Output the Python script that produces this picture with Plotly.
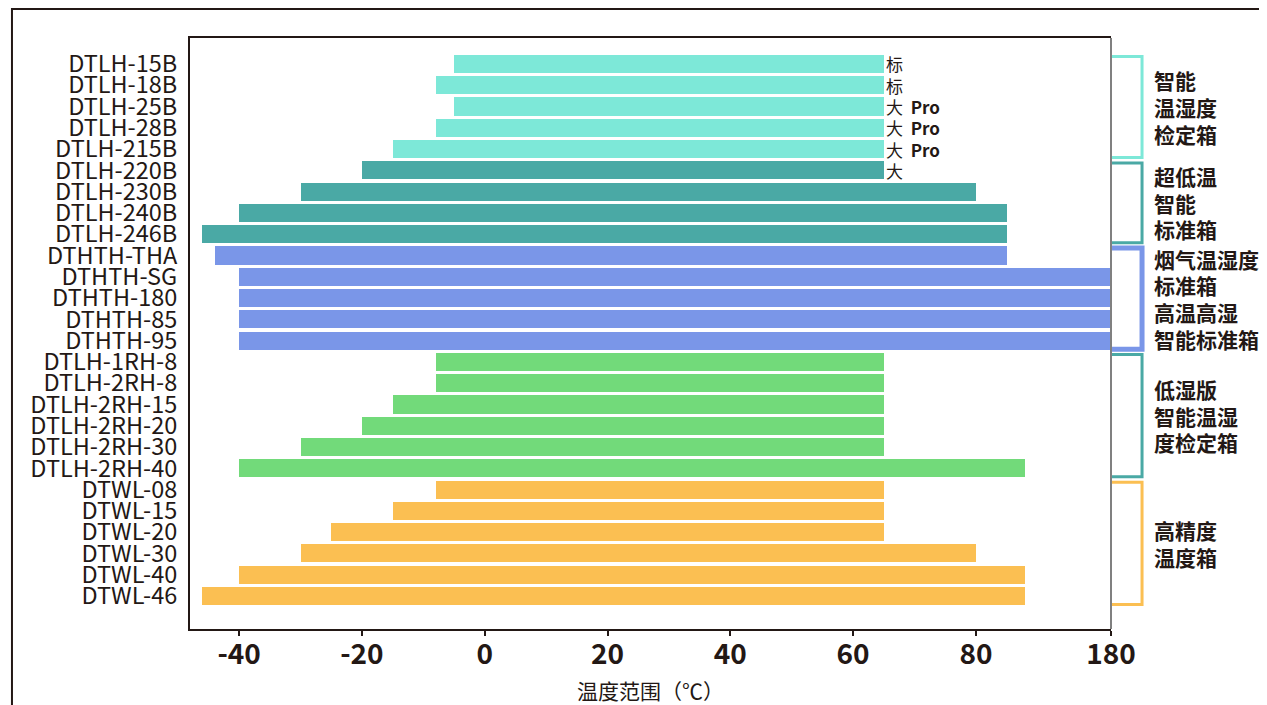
import plotly.graph_objects as go

# ---------------- data ----------------
models = ["DTLH-15B", "DTLH-18B", "DTLH-25B", "DTLH-28B", "DTLH-215B",
          "DTLH-220B", "DTLH-230B", "DTLH-240B", "DTLH-246B",
          "DTHTH-THA", "DTHTH-SG", "DTHTH-180", "DTHTH-85", "DTHTH-95",
          "DTLH-1RH-8", "DTLH-2RH-8", "DTLH-2RH-15", "DTLH-2RH-20", "DTLH-2RH-30", "DTLH-2RH-40",
          "DTWL-08", "DTWL-15", "DTWL-20", "DTWL-30", "DTWL-40", "DTWL-46"]
t_min = [-5, -8, -5, -8, -15,
         -20, -30, -40, -46,
         -44, -40, -40, -40, -40,
         -8, -8, -15, -20, -30, -40,
         -8, -15, -25, -30, -40, -46]
t_max = [65, 65, 65, 65, 65,
         65, 80, 85, 85,
         85, 180, 180, 180, 180,
         65, 65, 65, 65, 65, 88,
         65, 65, 65, 80, 88, 88]

group_sizes = [5, 4, 5, 6, 6]
group_bar_colors = ["#7DE8D8", "#4AA9A5", "#7A96E8", "#72DA7A", "#FBBF52"]
group_bracket_colors = ["#7DE8D8", "#4AA9A5", "#7A96E8", "#4AA9A5", "#FBBF52"]
group_labels = [["智能", "温湿度", "检定箱"],
                ["超低温", "智能", "标准箱"],
                ["烟气温湿度", "标准箱", "高温高湿", "智能标准箱"],
                ["低湿版", "智能温湿", "度检定箱"],
                ["高精度", "温度箱"]]

bar_notes = {"DTLH-15B": "标", "DTLH-18B": "标",
             "DTLH-25B": "大  <b>Pro</b>", "DTLH-28B": "大  <b>Pro</b>",
             "DTLH-215B": "大  <b>Pro</b>", "DTLH-220B": "大"}

tick_vals = [-40, -20, 0, 20, 40, 60, 80, 102]
tick_text = ["-40", "-20", "0", "20", "40", "60", "80", "180"]
x_range = [-48, 102]
x_title = "温度范围（℃）"

# ---------------- figure ----------------
TXT = "#231815"
FONT = "Noto Sans CJK SC"

row_colors = []
for size, col in zip(group_sizes, group_bar_colors):
    row_colors += [col] * size

ys = list(range(len(models)))
fig = go.Figure()
fig.add_trace(go.Bar(
    y=ys, x=[hi - lo for lo, hi in zip(t_min, t_max)], base=t_min,
    orientation="h", width=0.85,
    marker=dict(color=row_colors, line=dict(width=0)),
    hoverinfo="skip", showlegend=False))

annotations = []
for i, m in enumerate(models):
    if m in bar_notes:
        annotations.append(dict(x=t_max[i], y=i, xref="x", yref="y", text=bar_notes[m],
                                showarrow=False, xanchor="left", yanchor="middle", xshift=0,
                                font=dict(family=FONT, size=17, color=TXT)))

shapes = []
start = 0
for g, size in enumerate(group_sizes):
    y0 = start - 0.35
    y1 = start + size - 1 + 0.4
    lw = 5 if g == 2 else 3
    shapes.append(dict(type="path", xref="paper", yref="y",
                       path=f"M 1.001,{y0} L 1.0337,{y0} L 1.0337,{y1} L 1.001,{y1}",
                       line=dict(color=group_bracket_colors[g], width=lw)))
    lines = group_labels[g]
    yc = (y0 + y1) / 2
    n = len(lines)
    for k, t in enumerate(lines):
        annotations.append(dict(x=1.045, y=yc + (k - (n - 1) / 2) * 1.25, xref="paper", yref="y",
                                text=f"<b>{t}</b>", showarrow=False, xanchor="left", yanchor="middle",
                                font=dict(family=FONT, size=21, color=TXT)))
    start += size

# right border of plot (gray)
shapes.append(dict(type="line", xref="paper", yref="paper", x0=1, x1=1, y0=0, y1=1,
                   line=dict(color="#808080", width=2)))
# outer frame
shapes.append(dict(type="rect", xref="paper", yref="paper", x0=-0.1933, x1=1.3, y0=-0.3, y1=1.049,
                   line=dict(color=TXT, width=2), fillcolor="rgba(0,0,0,0)", layer="below"))

fig.update_layout(
    width=1259, height=697,
    margin=dict(l=182, r=156, t=30, b=76, autoexpand=False),
    paper_bgcolor="white", plot_bgcolor="white",
    font=dict(family=FONT, color=TXT),
    shapes=shapes, annotations=annotations,
    bargap=0,
)
fig.update_xaxes(range=x_range, tickvals=tick_vals, ticktext=tick_text, automargin=False,
                 tickfont=dict(family=FONT, size=28, color=TXT, weight="bold"),
                 ticks="outside", ticklen=5, tickwidth=1.5, tickcolor=TXT,
                 showline=True, linecolor=TXT, linewidth=2, mirror=True,
                 showgrid=False, zeroline=False, ticklabelstandoff=-6,
                 title=dict(text=x_title, font=dict(family=FONT, size=21, color=TXT), standoff=20))
fig.update_yaxes(range=[26.55, -1.22], tickvals=ys, ticktext=models, automargin=False,
                 tickfont=dict(family=FONT, size=23.5, color=TXT),
                 ticks="", showline=True, linecolor=TXT, linewidth=2,
                 showgrid=False, zeroline=False, ticklabelstandoff=6)

fig.write_html("out.html")
